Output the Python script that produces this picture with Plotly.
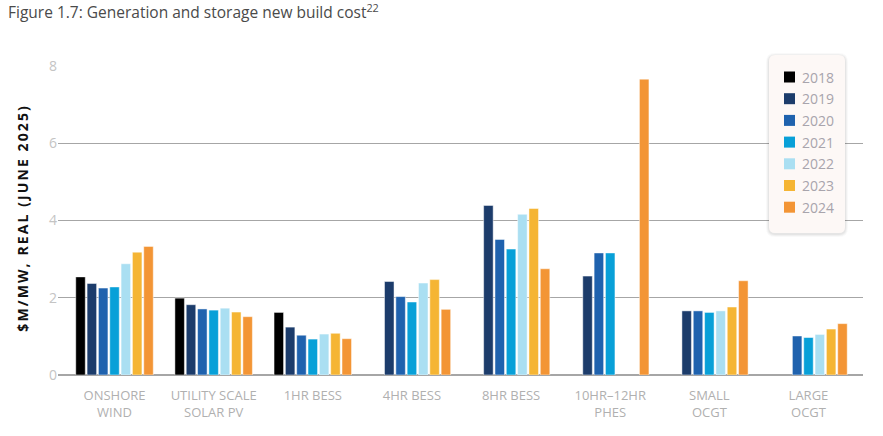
import plotly.graph_objects as go

categories = ["ONSHORE<br>WIND", "UTILITY SCALE<br>SOLAR PV", "1HR BESS", "4HR BESS",
              "8HR BESS", "10HR–12HR<br>PHES", "SMALL<br>OCGT", "LARGE<br>OCGT"]
years = ["2018", "2019", "2020", "2021", "2022", "2023", "2024"]
colors = ["#000000", "#1c3c6b", "#1f62ae", "#08a0d8", "#aadff2", "#f5b534", "#f39535"]

v2018 = [2.54, 1.99, 1.62, None, None, None, None, None]
v2019 = [2.37, 1.82, 1.24, 2.42, 4.39, 2.56, 1.66, None]
v2020 = [2.25, 1.71, 1.03, 2.03, 3.51, 3.16, 1.66, 1.01]
v2021 = [2.28, 1.68, 0.93, 1.89, 3.26, 3.16, 1.62, 0.97]
v2022 = [2.88, 1.73, 1.06, 2.38, 4.16, None, 1.66, 1.05]
v2023 = [3.18, 1.63, 1.08, 2.47, 4.31, None, 1.76, 1.19]
v2024 = [3.33, 1.51, 0.94, 1.70, 2.75, 7.66, 2.44, 1.33]
series = [v2018, v2019, v2020, v2021, v2022, v2023, v2024]

W, H = 883, 436
L, R, T, B = 58, 863, 66, 375

def px2x(px):
    return (px - L) / (R - L)

def px2y(py):
    return (B - py) / (B - T)

fig = go.Figure()
for yr, col, vals in zip(years, colors, series):
    fig.add_trace(go.Bar(
        x=list(range(len(categories))), y=vals, name=yr,
        marker=dict(color=col, line=dict(color="rgba(255,255,255,0.6)", width=0.8)),
        showlegend=False,
    ))

def rr_path(x0, y0, x1, y1, r):
    rx = r / (R - L)
    ry = r / (B - T)
    a0, a1 = px2x(x0), px2x(x1)
    b0, b1 = px2y(y1), px2y(y0)
    return (f"M {a0+rx},{b1} L {a1-rx},{b1} Q {a1},{b1} {a1},{b1-ry} "
            f"L {a1},{b0+ry} Q {a1},{b0} {a1-rx},{b0} L {a0+rx},{b0} "
            f"Q {a0},{b0} {a0},{b0+ry} L {a0},{b1-ry} Q {a0},{b1} {a0+rx},{b1} Z")

shapes = []
for i, alpha in enumerate([0.025, 0.035, 0.045]):
    g = 3 - i
    shapes.append(dict(type="path", xref="paper", yref="paper",
                       path=rr_path(769 - g, 55 - g + 1, 845 + g, 233 + g + 1, 6 + g),
                       fillcolor=f"rgba(0,0,0,{alpha})", line=dict(width=0), layer="above"))
shapes.append(dict(type="path", xref="paper", yref="paper",
                   path=rr_path(769, 55, 845, 233, 6),
                   fillcolor="#fdf8f6", line=dict(width=0), layer="above"))

annotations = []
item_y0, item_dy = 77, 21.7
for i, (yr, col) in enumerate(zip(years, colors)):
    cy = item_y0 + i * item_dy
    shapes.append(dict(type="rect", xref="paper", yref="paper",
                       x0=px2x(784), x1=px2x(795), y0=px2y(cy + 5.5), y1=px2y(cy - 5.5),
                       fillcolor=col, line=dict(width=0), layer="above"))
    annotations.append(dict(x=px2x(800), y=px2y(cy), xref="paper", yref="paper",
                            text=yr, showarrow=False, xanchor="left", yanchor="middle",
                            font=dict(family="Open Sans", size=14, color="#a8a4ac")))

annotations.append(dict(x=px2x(22), y=px2y(218.5), xref="paper", yref="paper",
                        text="<b>$M/MW, REAL (JUNE 2025)</b>", textangle=-90, showarrow=False,
                        xanchor="center", yanchor="middle",
                        font=dict(family="Open Sans", size=14, color="#111111")))

fig.update_layout(
    width=W, height=H,
    margin=dict(l=L, r=W - R, t=T, b=H - B),
    paper_bgcolor="white", plot_bgcolor="white",
    barmode="group", bargap=0.2, bargroupgap=0.16,
    title=dict(text="Figure 1.7: Generation and storage new build cost<sup>22</sup>",
               x=8 / W, xref="container", xanchor="left",
               y=1 - 13 / H, yref="container", yanchor="middle",
               font=dict(family="Open Sans", size=15.5, color="#4a4a4a")),
    xaxis=dict(range=[-0.57, 7.55], tickmode="array", tickvals=list(range(len(categories))),
               ticktext=categories, showgrid=False, zeroline=False, showline=False,
               ticks="outside", ticklen=8, tickcolor="rgba(0,0,0,0)",
               tickfont=dict(family="Open Sans", size=13, color="#b0b0b0")),
    yaxis=dict(range=[0, 8], tickvals=[0, 2, 4, 6, 8], showgrid=True, gridcolor="#a6a6a6",
               gridwidth=1.3, zeroline=True, zerolinecolor="#a6a6a6", zerolinewidth=1.3,
               showline=False, ticks="",
               tickfont=dict(family="Open Sans", size=14, color="#c4c4c4")),
    shapes=shapes, annotations=annotations,
)

fig.write_html("out.html", config={"displayModeBar": False, "staticPlot": True})

# page styling: no body margin, letter-spaced y-axis title
with open("out.html", encoding="utf-8") as f:
    html = f.read()
css = ("<style>body{margin:0;padding:0;overflow:hidden}"
       ".annotation[data-index='7'] text{letter-spacing:2.1px}</style>")
html = html.replace("<head>", "<head>" + css, 1)
with open("out.html", "w", encoding="utf-8") as f:
    f.write(html)
